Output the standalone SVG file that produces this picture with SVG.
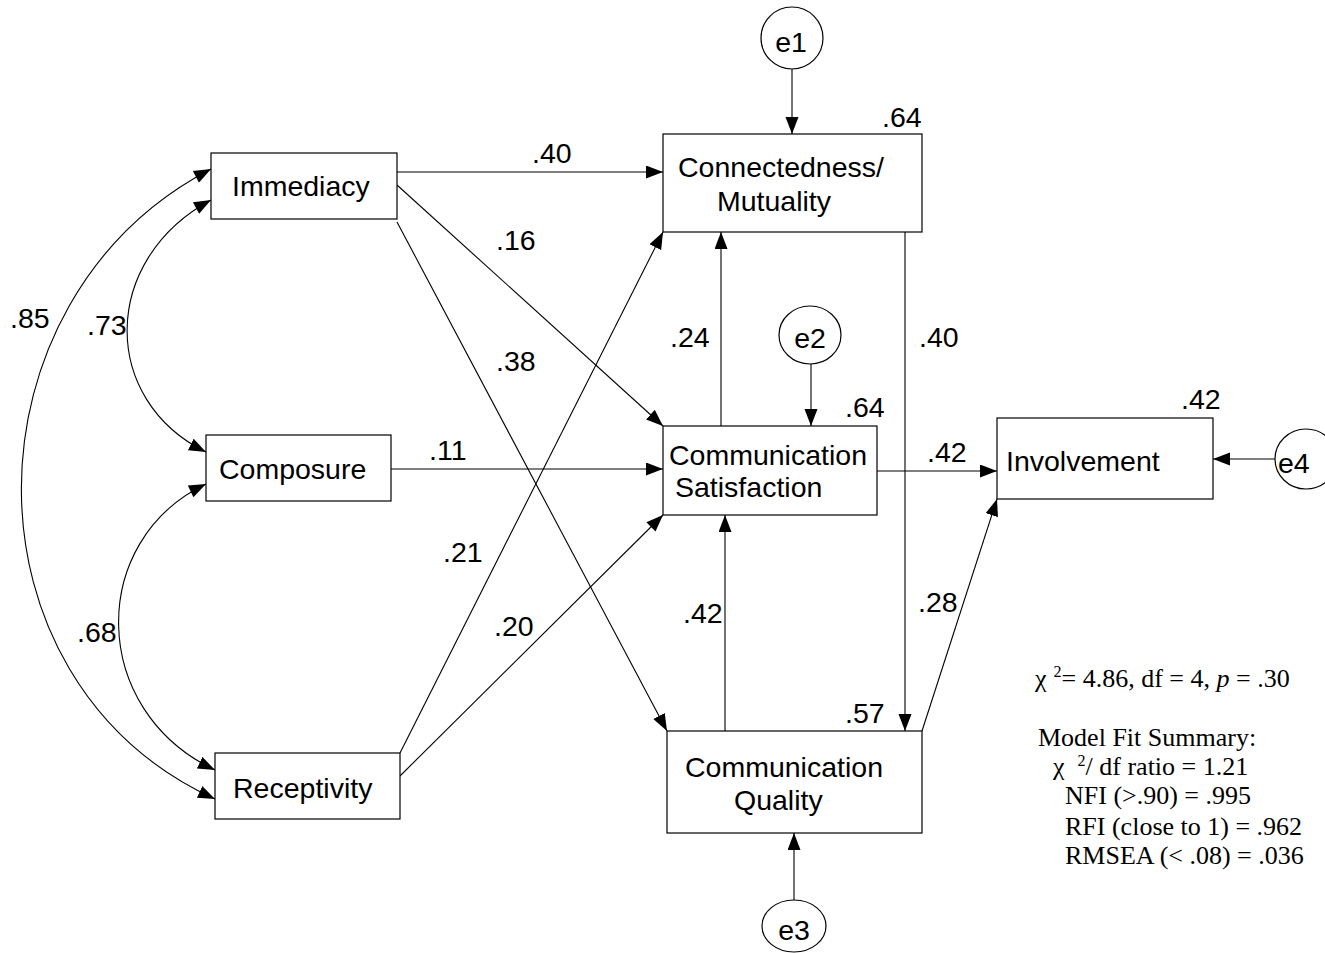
<svg xmlns="http://www.w3.org/2000/svg" width="1325" height="953" viewBox="0 0 1325 953">
<style>
.box{fill:#fff;stroke:#000;stroke-width:1.2}
.err{fill:#fff;stroke:#000;stroke-width:1.2}
.lbl{font-family:"Liberation Sans",Arial,sans-serif;font-size:28.5px;fill:#000}
.num{font-family:"Liberation Sans",Arial,sans-serif;font-size:28.5px;fill:#000}
.fit{font-family:"Liberation Serif","Times New Roman",serif;font-size:26px;fill:#000}
.c{fill:none;stroke:#000;stroke-width:1.1;marker-end:url(#ah)}
.cc{fill:none;stroke:#000;stroke-width:1.1;marker-start:url(#ahs);marker-end:url(#ah)}
</style>
<defs>
<marker id="ah" markerUnits="userSpaceOnUse" markerWidth="18" markerHeight="14" refX="17" refY="6.5" orient="auto">
<path d="M0,0 L17,6.5 L0,13 z" fill="#000"/>
</marker>
<marker id="ahs" markerUnits="userSpaceOnUse" markerWidth="18" markerHeight="14" refX="0" refY="6.5" orient="auto">
<path d="M17,0 L0,6.5 L17,13 z" fill="#000"/>
</marker>
</defs>
<rect width="1325" height="953" fill="#fff"/>

<g id="connectors">
<path class="c" d="M792,69 L792,134"/>
<path class="c" d="M811,364 L811,426"/>
<path class="c" d="M794,900 L794,833"/>
<path class="c" d="M1275,459 L1213,459"/>
<path class="c" d="M397,172 L663,172"/>
<path class="c" d="M397,185 L663,426"/>
<path class="c" d="M397,222 L667,731"/>
<path class="c" d="M391,469 L663,469"/>
<path class="c" d="M400,753 L663,232"/>
<path class="c" d="M400,776 L663,515"/>
<path class="c" d="M721,426 L721,232"/>
<path class="c" d="M725,731 L725,515"/>
<path class="c" d="M905,232 L905,731"/>
<path class="c" d="M877,471 L997,471"/>
<path class="c" d="M922,731 L997,499"/>
<path class="cc" d="M211,169 C-40,300 -45,680 215,799"/>
<path class="cc" d="M211,200 C100,260 100,400 206,452"/>
<path class="cc" d="M206,484 C88,540 88,710 215,770"/>
</g>

<g id="labels">
<text class="num" x="532" y="163">.40</text>
<text class="num" x="496" y="250">.16</text>
<text class="num" x="496" y="371">.38</text>
<text class="num" x="429" y="460">.11</text>
<text class="num" x="10" y="328">.85</text>
<text class="num" x="87" y="335">.73</text>
<text class="num" x="77" y="642">.68</text>
<text class="num" x="443" y="562">.21</text>
<text class="num" x="494" y="636">.20</text>
<text class="num" x="670" y="347">.24</text>
<text class="num" x="919" y="347">.40</text>
<text class="num" x="927" y="462">.42</text>
<text class="num" x="683" y="623">.42</text>
<text class="num" x="918" y="612">.28</text>
</g>

<g id="immediacy">
<rect class="box" x="211" y="153" width="186" height="66"/>
<text class="lbl" x="232" y="196">Immediacy</text>
</g>
<g id="composure">
<rect class="box" x="206" y="435" width="185" height="66"/>
<text class="lbl" x="219" y="479">Composure</text>
</g>
<g id="receptivity">
<rect class="box" x="215" y="753" width="185" height="66"/>
<text class="lbl" x="233" y="798">Receptivity</text>
</g>
<g id="connectedness">
<rect class="box" x="663" y="134" width="259" height="98"/>
<text class="lbl" x="678" y="177">Connectedness/</text>
<text class="lbl" x="717" y="211">Mutuality</text>
<text class="num" x="882" y="127">.64</text>
</g>
<g id="satisfaction">
<rect class="box" x="663" y="426" width="214" height="89"/>
<text class="lbl" x="669" y="465">Communication</text>
<text class="lbl" x="675" y="497">Satisfaction</text>
<text class="num" x="845" y="417">.64</text>
</g>
<g id="quality">
<rect class="box" x="667" y="731" width="255" height="102"/>
<text class="lbl" x="685" y="777">Communication</text>
<text class="lbl" x="734" y="810">Quality</text>
<text class="num" x="845" y="723">.57</text>
</g>
<g id="involvement">
<rect class="box" x="997" y="418" width="216" height="81"/>
<text class="lbl" x="1006" y="471">Involvement</text>
<text class="num" x="1181" y="409">.42</text>
</g>
<g id="e1">
<ellipse class="err" cx="792" cy="38" rx="31" ry="31"/>
<text class="lbl" x="791" y="52" text-anchor="middle">e1</text>
</g>
<g id="e2">
<ellipse class="err" cx="810" cy="335" rx="31" ry="29"/>
<text class="lbl" x="810" y="348" text-anchor="middle">e2</text>
</g>
<g id="e3">
<ellipse class="err" cx="794" cy="926" rx="32" ry="26"/>
<text class="lbl" x="794" y="940" text-anchor="middle">e3</text>
</g>
<g id="e4">
<ellipse class="err" cx="1306" cy="459" rx="31" ry="30"/>
<text class="lbl" x="1278" y="473">e4</text>
</g>

<g id="fit">
<text class="fit" x="1035" y="687">χ<tspan font-size="16" dx="7" dy="-10">2</tspan><tspan dy="10">= 4.86, df = 4, </tspan><tspan font-style="italic">p</tspan> = .30</text>
<text class="fit" x="1038" y="746">Model Fit Summary:</text>
<text class="fit" x="1053" y="775">χ<tspan font-size="16" dx="13" dy="-9">2</tspan><tspan dy="9">/ df ratio = 1.21</tspan></text>
<text class="fit" x="1065" y="804">NFI (&gt;.90) = .995</text>
<text class="fit" x="1065" y="835">RFI (close to 1) = .962</text>
<text class="fit" x="1065" y="864">RMSEA (&lt; .08) = .036</text>
</g>
</svg>
